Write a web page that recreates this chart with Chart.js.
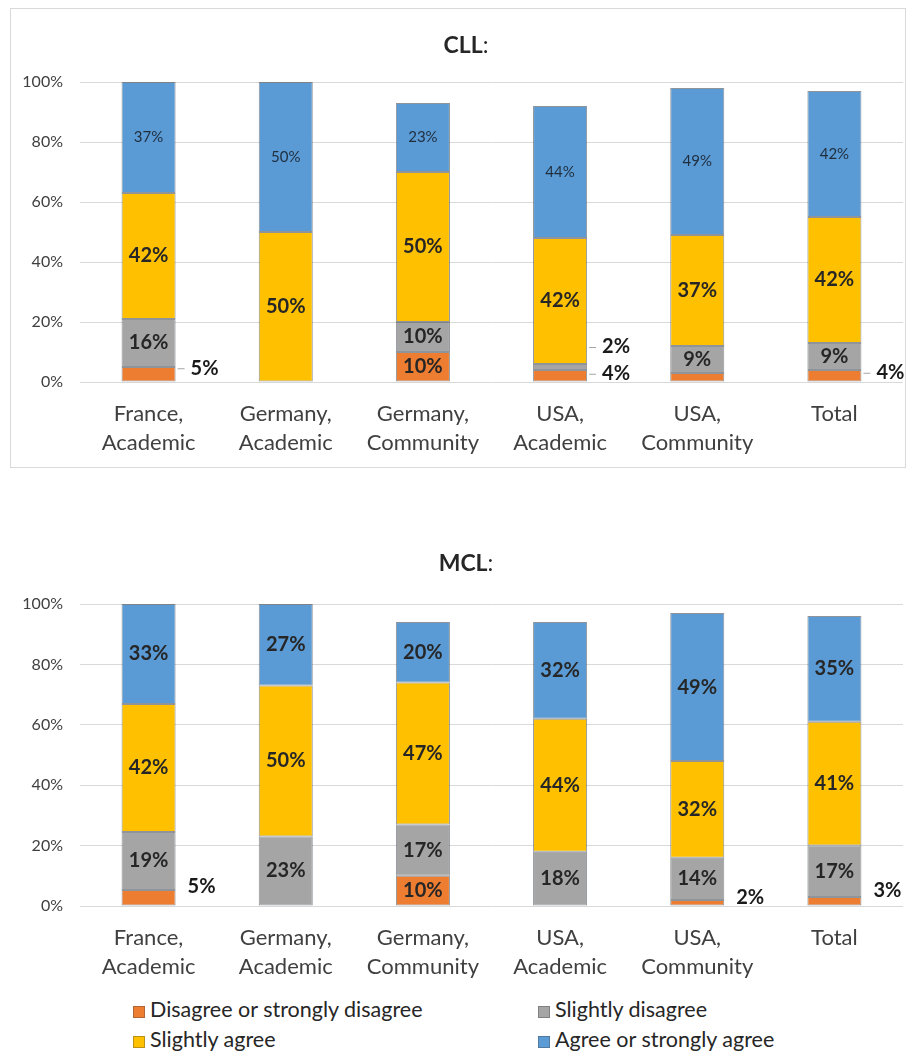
<!DOCTYPE html>
<html>
<head>
<meta charset="utf-8">
<script src="https://cdn.jsdelivr.net/npm/chart.js@4.4.1/dist/chart.umd.min.js"></script>
<style>
    body { margin: 0; background: #fff; font-family: Lato, sans-serif; }
    #page { position: relative; width: 912px; height: 1052px; }
    .box { position: absolute; box-sizing: border-box; }
    #cllBox { left: 10px; top: 8px; width: 896px; height: 460px; border: 1px solid #d9d9d9; }
    #mclBox { left: 11px; top: 520px; width: 894px; height: 470px; }
    .title { position: absolute; width: 200px; text-align: center; font-size: 23px; color: #262626; }
    .legend-item { position: absolute; font-size: 21.5px; color: #262626; white-space: nowrap; }
    .legend-item span { display: inline-block; width: 12px; height: 12px; margin-right: 5px; vertical-align: -1px; border: 1px solid rgba(60, 60, 60, 0.35); box-sizing: border-box; }
</style>
</head>
<body>
<div id="page">
    <div id="cllBox" class="box"><canvas id="cllChart"></canvas></div>
    <div class="title" style="left:366px; top:30px;"><b>CLL</b>:</div>
    <div id="mclBox" class="box"><canvas id="mclChart"></canvas></div>
    <div class="title" style="left:366px; top:548px;"><b>MCL</b>:</div>
    <div id="legend"></div>
</div>
<script>
const categories = [["France,", "Academic"], ["Germany,", "Academic"], ["Germany,", "Community"], ["USA,", "Academic"], ["USA,", "Community"], ["Total"]];
const seriesNames = ["Disagree or strongly disagree", "Slightly disagree", "Slightly agree", "Agree or strongly agree"];
const seriesColors = ["#ed7d31", "#a5a5a5", "#ffc000", "#5b9bd5"];
const yTicks = [0, 20, 40, 60, 80, 100];

// CLL
const cllDisagree = [5, 0, 10, 4, 3, 4];
const cllSlightlyDisagree = [16, 0, 10, 2, 9, 9];
const cllSlightlyAgree = [42, 50, 50, 42, 37, 42];
const cllAgree = [37, 50, 23, 44, 49, 42];

// MCL (France, labels are rounded)
const mclDisagree = [5.3, 0, 10, 0, 2, 3];
const mclSlightlyDisagree = [19.2, 23, 17, 18, 14, 17];
const mclSlightlyAgree = [42.4, 50, 47, 44, 32, 41];
const mclAgree = [33.1, 27, 20, 32, 49, 35];

// small values drawn beside the bar: [series, category, dy, leader line]
const cllOutside = [[0, 0, -6, true], [1, 3, -20, true], [0, 3, -2, true], [0, 5, -3, true]];
const mclOutside = [[0, 0, -11, false], [0, 4, -5, false], [0, 5, -11, false]];

const FONT = "Lato";

const segmentLabels = {
    id: "segmentLabels",
    afterDatasetsDraw(chart, args, opts) {
        const ctx = chart.ctx;
        ctx.save();
        ctx.textBaseline = "middle";
        chart.data.datasets.forEach((ds, i) => {
            const meta = chart.getDatasetMeta(i);
            meta.data.forEach((bar, j) => {
                const v = ds.data[j];
                if (v < 9) return;
                const light = opts.lightSeries.includes(i);
                ctx.font = (light ? "15px " : "bold 20px ") + FONT;
                ctx.fillStyle = light ? "#1f2d3d" : "#262626";
                ctx.textAlign = "center";
                ctx.fillText(Math.round(v) + "%", bar.x, (bar.y + bar.base) / 2);
            });
        });
        opts.outside.forEach(([i, j, dy, leader]) => {
            const bar = chart.getDatasetMeta(i).data[j];
            const v = chart.data.datasets[i].data[j];
            const x = bar.x + bar.width / 2;
            const y = (bar.y + bar.base) / 2 + dy;
            if (leader) {
                ctx.strokeStyle = "#a6a6a6";
                ctx.lineWidth = 1;
                ctx.beginPath();
                ctx.moveTo(x + 2, y + 0.5);
                ctx.lineTo(x + 9, y + 0.5);
                ctx.stroke();
            }
            ctx.font = "bold 20px " + FONT;
            ctx.fillStyle = "#1a1a1a";
            ctx.textAlign = "left";
            ctx.fillText(Math.round(v) + "%", x + (leader ? 15 : 12), y);
        });
        ctx.restore();
    },
};

function makeDatasets(seriesValues) {
    return seriesValues.map((values, i) => ({
        label: seriesNames[i],
        data: values,
        backgroundColor: seriesColors[i],
        borderColor: "rgba(50, 60, 70, 0.55)",
        borderWidth: 1,
        borderSkipped: false,
        barPercentage: 0.394,
        categoryPercentage: 1,
    }));
}

function makeChart(canvasId, width, height, seriesValues, layout, labelOpts) {
    const canvas = document.getElementById(canvasId);
    canvas.width = width;
    canvas.height = height;
    canvas.style.width = width + "px";
    canvas.style.height = height + "px";
    return new Chart(canvas, {
        type: "bar",
        data: { labels: categories, datasets: makeDatasets(seriesValues) },
        options: {
            responsive: false,
            animation: false,
            devicePixelRatio: 1,
            layout: { padding: { top: layout.top, right: 2, left: 0, bottom: 0 } },
            plugins: {
                legend: { display: false },
                tooltip: { enabled: false },
                segmentLabels: labelOpts,
            },
            scales: {
                x: {
                    stacked: true,
                    grid: { display: false, drawTicks: false },
                    border: { display: false },
                    ticks: {
                        color: "#404040",
                        font: { family: FONT, size: 22, lineHeight: 1.32 },
                        padding: 17,
                        maxRotation: 0,
                        autoSkip: false,
                    },
                    afterFit: (scale) => { scale.height = layout.xHeight; },
                },
                y: {
                    stacked: true,
                    min: 0,
                    max: 100,
                    afterBuildTicks: (scale) => { scale.ticks = yTicks.map((v) => ({ value: v })); },
                    grid: { color: "#d9d9d9", lineWidth: 1, drawTicks: false },
                    border: { display: false },
                    ticks: {
                        color: "#404040",
                        font: { family: FONT, size: 16 },
                        padding: 17,
                        callback: (v) => v + "%",
                    },
                    afterFit: (scale) => { scale.width = 69; },
                },
            },
        },
        plugins: [segmentLabels],
    });
}

makeChart("cllChart", 894, 458,
    [cllDisagree, cllSlightlyDisagree, cllSlightlyAgree, cllAgree],
    { top: 73, xHeight: 85 },
    { outside: cllOutside, lightSeries: [3] });

makeChart("mclChart", 894, 470,
    [mclDisagree, mclSlightlyDisagree, mclSlightlyAgree, mclAgree],
    { top: 84, xHeight: 84 },
    { outside: mclOutside, lightSeries: [] });

// shared legend, two columns
const legend = document.getElementById("legend");
const legendSpots = [[133, 996], [538, 996], [133, 1026], [538, 1026]];
seriesNames.forEach((name, i) => {
    const item = document.createElement("div");
    item.className = "legend-item";
    item.style.left = legendSpots[i][0] + "px";
    item.style.top = legendSpots[i][1] + "px";
    item.innerHTML = '<span style="background:' + seriesColors[i] + '"></span>' + name;
    legend.appendChild(item);
});
</script>
</body>
</html>
